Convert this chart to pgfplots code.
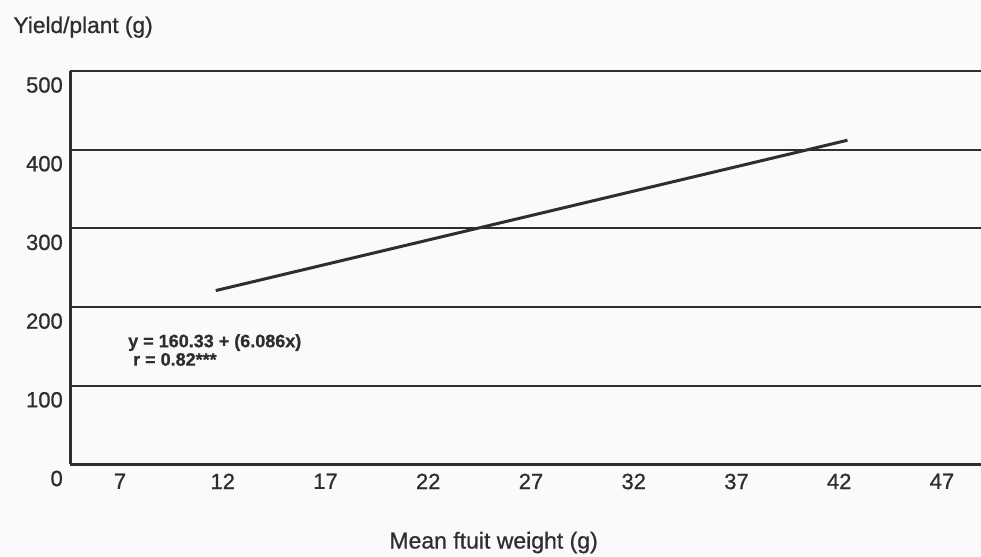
\documentclass[border=0pt]{standalone}
\usepackage{pgfplots}
\pgfplotsset{compat=1.18}
\usepackage{fontspec}
\setmainfont[FakeBold=0.8]{Liberation Sans}
\definecolor{ink}{HTML}{2E2E2E}
\definecolor{paper}{HTML}{FAFAFA}
\begin{document}
\begin{tikzpicture}
\fill[paper] (0,0) rectangle (981pt,556pt);
\useasboundingbox (0,0) rectangle (981pt,556pt);
\begin{axis}[
  at={(70pt,91.5pt)}, anchor=south west,
  scale only axis, width=911pt, height=393.5pt,
  xmin=4.567, xmax=48.9, ymin=0, ymax=500,
  axis x line*=bottom, axis y line*=left,
  xtick={7,12,17,22,27,32,37,42,47},
  xticklabels={7,12,17,22,27,32,37,42,47},
  ytick={0,100,200,300,400,500},
  yticklabels={0,100,200,300,400,500},
  major tick length=0pt,
  ymajorgrids,
  grid style={line width=2pt, color=ink},
  axis line style={line width=3pt, color=ink},
  tick label style={font=\fontsize{22}{26}\selectfont, inner sep=0pt, text=ink},
  xticklabel style={anchor=north, yshift=-9pt},
  yticklabel style={anchor=east, xshift=-7pt, yshift=-14pt},
  xlabel={Mean ftuit weight (g)},
  xlabel style={at={(axis description cs:0.465,0)}, anchor=base, yshift=-84pt,
    font=\fontsize{23}{26}\selectfont, text=ink},
  ylabel={Yield/plant (g)},
  ylabel style={rotate=-90, at={(axis description cs:0,1)}, anchor=base west,
    xshift=-60pt, yshift=38pt, font=\fontsize{22.7}{26}\selectfont, text=ink},
  clip=false,
]
\addplot[line width=3pt, color=ink] coordinates {(11.66,221) (42.4,412)};
\node[anchor=base west, font=\bfseries\fontsize{18}{20}\selectfont, text=ink, inner sep=0pt]
  at (axis cs:7.39,149) {y = 160.33 + (6.086x)};
\node[anchor=base west, font=\bfseries\fontsize{18}{20}\selectfont, text=ink, inner sep=0pt]
  at (axis cs:7.63,125.6) {r = 0.82***};
\end{axis}
\end{tikzpicture}
\end{document}
